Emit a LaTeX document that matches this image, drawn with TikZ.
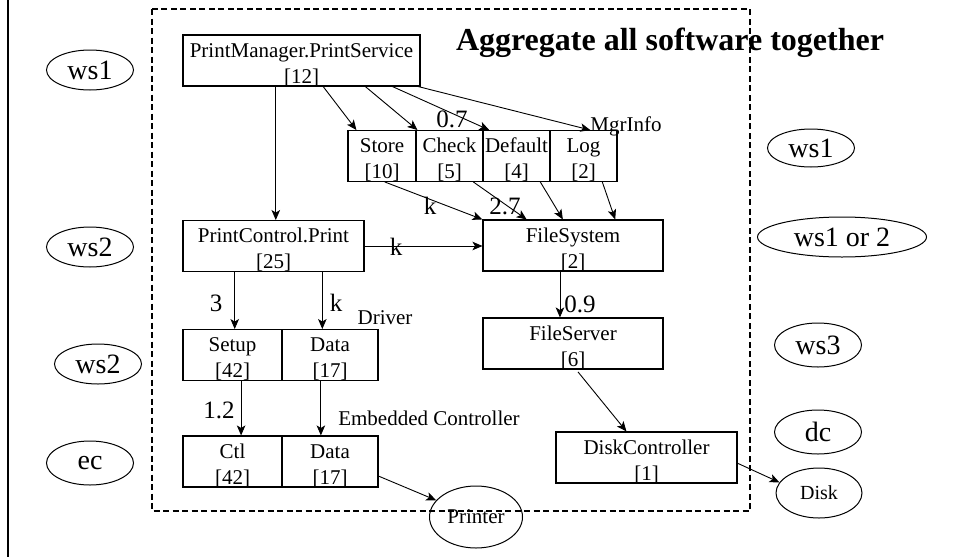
\documentclass[tikz,border=0pt]{standalone}
\usepackage{fontspec}
\setmainfont{Liberation Serif}
\usetikzlibrary{shapes.geometric,arrows.meta,calc}

% extra head room above the first text line of a component box
\newcommand\cstrut{\rule{0pt}{22pt}}

\tikzset{
  comp/.style={draw, line width=1.1pt, rectangle, inner sep=0pt, align=center,
    font=\fontsize{21}{26}\selectfont},
  host/.style={draw, line width=1pt, ellipse, inner sep=0pt, minimum width=87pt,
    minimum height=40pt, font=\fontsize{28}{30}\selectfont},
  dev/.style={draw, line width=1pt, ellipse, inner sep=0pt,
    font=\fontsize{21}{24}\selectfont},
  flow/.style={line width=0.9pt, -{Stealth[length=10pt,width=8.5pt,inset=2.5pt]}},
  wt/.style={inner sep=0pt, font=\fontsize{25}{28}\selectfont},
  note/.style={inner sep=0pt, font=\fontsize{21}{24}\selectfont},
}

\begin{document}
\begin{tikzpicture}[x=1pt,y=-1pt]
\useasboundingbox (0,0) rectangle (955,557);

% left margin rule and the software boundary
\draw[line width=2.5pt] (8,0) -- (8,557);
\draw[line width=1.8pt, dash pattern=on 6pt off 3.5pt] (152,9) rectangle (750,511);

\node[font=\fontsize{32}{36}\selectfont\bfseries, anchor=base, inner sep=0pt]
  (title) at (670,50) {Aggregate all software together};

% software components
\node[comp, minimum width=237pt, minimum height=51pt] (pm) at (301.5,60.5) {\cstrut PrintManager.PrintService\\{}[12]};
\node[comp, minimum width=68pt, minimum height=46pt] (store) at (382,156) {\cstrut Store\\{}[10]};
\node[comp, minimum width=67pt, minimum height=46pt] (check) at (449.5,156) {\cstrut Check\\{}[5]};
\node[comp, minimum width=67pt, minimum height=46pt] (dflt) at (516.5,156) {\cstrut Default\\{}[4]};
\node[comp, minimum width=67pt, minimum height=46pt] (log) at (583.5,156) {\cstrut Log\\{}[2]};
\node[comp, minimum width=181pt, minimum height=49pt] (pc) at (273.5,246) {\cstrut PrintControl.Print\\{}[25]};
\node[comp, minimum width=180pt, minimum height=51pt] (fs) at (573,245.5) {\cstrut FileSystem\\{}[2]};
\node[comp, minimum width=99pt, minimum height=50pt] (setup) at (232.5,355) {\cstrut Setup\\{}[42]};
\node[comp, minimum width=96pt, minimum height=50pt] (drv) at (330,355) {\cstrut Data\\{}[17]};
\node[comp, minimum width=99pt, minimum height=51pt] (ctl) at (232.5,461.5) {\cstrut Ctl\\{}[42]};
\node[comp, minimum width=96pt, minimum height=51pt] (ecd) at (330,461.5) {\cstrut Data\\{}[17]};
\node[comp, minimum width=180pt, minimum height=51pt] (fsrv) at (573,343.5) {\cstrut FileServer\\{}[6]};
\node[comp, minimum width=181pt, minimum height=51pt] (dctl) at (646.5,457.5) {\cstrut DiskController\\{}[1]};

% hosts
\node[host] (h1) at (90,70) {ws1};
\node[host] (h2) at (90,247) {ws2};
\node[host] (h3) at (98,364) {ws2};
\node[host, minimum height=44pt] (h4) at (90,463) {ec};
\node[host, minimum height=38pt] (h5) at (811,148) {ws1};
\node[host, minimum width=169pt] (h6) at (842,237) {ws1 or 2};
\node[host, minimum height=44pt] (h7) at (818,345) {ws3};
\node[host, minimum height=44pt] (h8) at (818,432) {dc};

% devices
\node[dev, minimum width=86pt, minimum height=50pt, font=\fontsize{20}{24}\selectfont] (disk) at (819,493) {Disk};
\node[dev, minimum width=93pt, minimum height=62pt] (printer) at (476,517) {Printer};

% calls out of the print service
\coordinate (p0) at ($(pm.south west)!0.392!(pm.south east)$);
\draw[flow] (p0) -- (p0 |- pc.north);
\draw[flow] ($(pm.south west)!0.591!(pm.south east)$) -- ($(store.north west)!0.13!(store.north east)$);
\draw[flow] ($(pm.south west)!0.768!(pm.south east)$) -- ($(check.north west)!0.03!(check.north east)$);
\draw[flow] ($(pm.south west)!0.882!(pm.south east)$) -- ($(dflt.north west)!0.1!(dflt.north east)$);
\draw[flow] ($(pm.south west)!0.99!(pm.south east)$) -- ($(log.north west)!0.6!(log.north east)$);

% MgrInfo into the file system
\draw[flow] ($(store.south west)!0.54!(store.south east)$) -- (fs.north west);
\draw[flow] ($(check.south west)!0.85!(check.south east)$) -- ($(fs.north west)!0.244!(fs.north east)$);
\draw[flow] ($(dflt.south west)!0.85!(dflt.south east)$) -- ($(fs.north west)!0.444!(fs.north east)$);
\draw[flow] ($(log.south west)!0.776!(log.south east)$) -- ($(fs.north west)!0.733!(fs.north east)$);

% print control
\draw[flow] (pc.east) -- (pc.east -| fs.west);
\coordinate (p1) at ($(pc.south west)!0.287!(pc.south east)$);
\draw[flow] (p1) -- (p1 |- setup.north);
\coordinate (p2) at ($(pc.south west)!0.768!(pc.south east)$);
\draw[flow] (p2) -- (p2 |- drv.north);

% driver to embedded controller
\coordinate (p3) at ($(setup.south west)!0.586!(setup.south east)$);
\draw[flow] (p3) -- (p3 |- ctl.north);
\coordinate (p4) at ($(drv.south west)!0.406!(drv.south east)$);
\draw[flow] (p4) -- (p4 |- ecd.north);
\draw[flow] ($(ecd.north east)!0.78!(ecd.south east)$) -- (printer);

% file storage chain
\coordinate (p5) at ($(fs.south west)!0.428!(fs.south east)$);
\draw[flow] (p5) -- (p5 |- fsrv.north);
\draw[flow, shorten <=3pt] ($(fsrv.south west)!0.517!(fsrv.south east)$) -- ($(dctl.north west)!0.39!(dctl.north east)$);
\draw[flow] ($(dctl.north east)!0.61!(dctl.south east)$) -- (disk.165);

% weights and group labels
\node[wt] (w07) at (452,119) {0.7};
\node[note] (mgr) at (626,126) {MgrInfo};
\node[wt] (wk1) at (430,206) {k};
\node[wt] (w27) at (505,206) {2.7};
\node[wt] (wk2) at (396,247) {k};
\node[wt] (w3) at (216,303) {3};
\node[wt] (wk3) at (336,303) {k};
\node[note] (drvl) at (385,318) {Driver};
\node[wt] (w12) at (219,410) {1.2};
\node[note] (ecl) at (429,418) {Embedded Controller};
\node[wt] (w09) at (580,304) {0.9};
\end{tikzpicture}
\end{document}
